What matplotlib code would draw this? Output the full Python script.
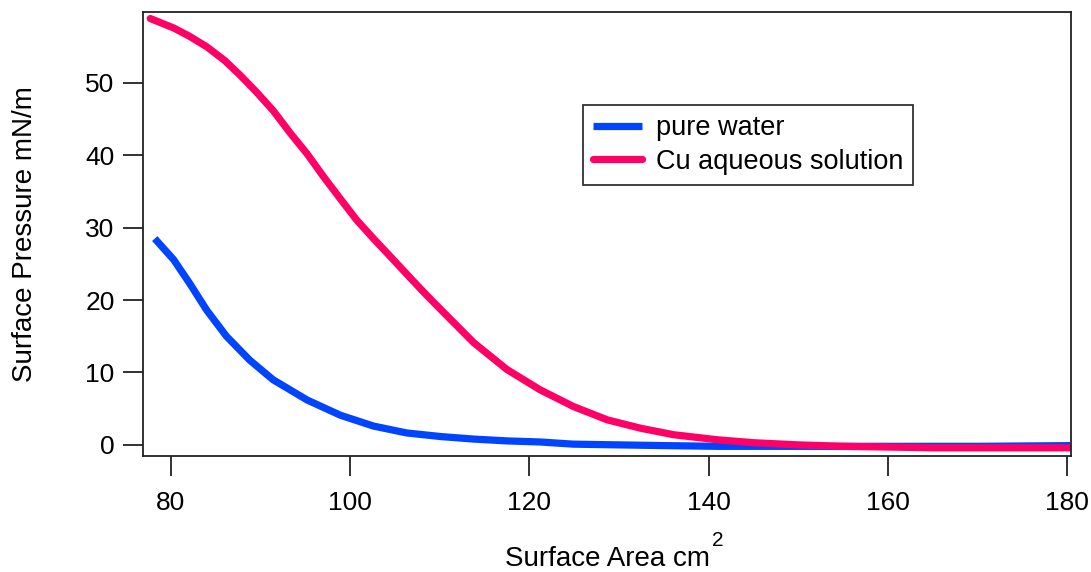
#!/usr/bin/env python3
"""Surface pressure isotherms: pure water vs Cu aqueous solution"""

import matplotlib
matplotlib.use('Agg')
import matplotlib.pyplot as plt

plt.rcParams['font.family'] = ['Liberation Sans', 'DejaVu Sans']
plt.rcParams['font.size'] = 19

# ============================================================
# data
# ============================================================
water_area = [78.2, 80.3, 82.1, 84.0, 86.2, 88.8, 91.4, 95.2, 98.9, 102.6,
              106.3, 110.1, 113.8, 117.5, 121.2, 124.9, 130.0, 135.0, 141.0,
              150.0, 160.0, 170.0, 180.3]
water_pressure = [28.5, 25.6, 22.3, 18.6, 15.0, 11.7, 9.0, 6.2, 4.1, 2.6,
                  1.65, 1.15, 0.8, 0.55, 0.4, 0.1, 0.0, -0.1, -0.2,
                  -0.2, -0.2, -0.2, -0.1]

cu_area = [77.7, 80.3, 82.0, 84.0, 86.0, 87.7, 89.5, 91.4, 93.3, 95.2,
           97.0, 98.9, 100.7, 102.6, 104.5, 106.3, 108.2, 110.1, 113.8,
           117.5, 121.2, 124.9, 128.7, 132.4, 136.1, 141.0, 145.0,
           150.0, 155.0, 160.0, 165.0, 170.0, 175.0, 180.3]
cu_pressure = [58.9, 57.6, 56.5, 55.0, 53.1, 51.1, 48.8, 46.2, 43.1, 40.2,
               37.1, 34.0, 31.1, 28.5, 26.0, 23.6, 21.1, 18.7, 14.1,
               10.4, 7.6, 5.3, 3.45, 2.3, 1.4, 0.7, 0.3,
               0.0, -0.2, -0.3, -0.4, -0.4, -0.4, -0.4]

x_ticks = [80, 100, 120, 140, 160, 180]
y_ticks = [0, 10, 20, 30, 40, 50]

BLUE = '#0044ff'
PINK = '#ff0066'


def main():
    fig = plt.figure(figsize=(10.91, 5.72), dpi=100)
    ax = fig.add_axes([0.131, 0.203, 0.851, 0.776])

    ax.plot(water_area, water_pressure, color=BLUE, lw=5.2,
            solid_capstyle='butt', solid_joinstyle='round', label='pure water')
    ax.plot(cu_area, cu_pressure, color=PINK, lw=5.2,
            solid_capstyle='round', solid_joinstyle='round',
            label='Cu aqueous solution')

    ax.set_xlim(76.88, 180.45)
    ax.set_ylim(-1.52, 59.8)
    ax.set_xticks(x_ticks)
    ax.set_yticks(y_ticks)

    for s in ax.spines.values():
        s.set_linewidth(1.3)
        s.set_color('#222222')
    ax.tick_params(direction='out', length=14.4, width=1.3, color='#222222',
                   labelsize=19, top=False, right=False)
    ax.tick_params(axis='x', pad=11)
    ax.tick_params(axis='y', pad=6)

    ax.set_xlabel('Surface Area cm', fontsize=20, labelpad=22)
    ax.set_ylabel('Surface Pressure mN/m', fontsize=20, labelpad=34)
    ax.annotate('2', xy=(1, 1), xycoords=ax.xaxis.label,
                xytext=(2, -3), textcoords='offset points',
                ha='left', va='bottom', fontsize=15)

    leg = ax.legend(loc='upper left', bbox_to_anchor=(0.474, 0.7905),
                    borderaxespad=0, fontsize=19.5, frameon=True,
                    fancybox=False, framealpha=1.0, edgecolor='#333333',
                    handlelength=1.8, handletextpad=0.5, borderpad=0.38,
                    labelspacing=0.28)
    leg.get_frame().set_linewidth(1.3)
    for line in leg.get_lines():
        line.set_linewidth(5.2)

    fig.savefig('out.png', dpi=100, facecolor='white')
    plt.close(fig)


if __name__ == '__main__':
    main()
